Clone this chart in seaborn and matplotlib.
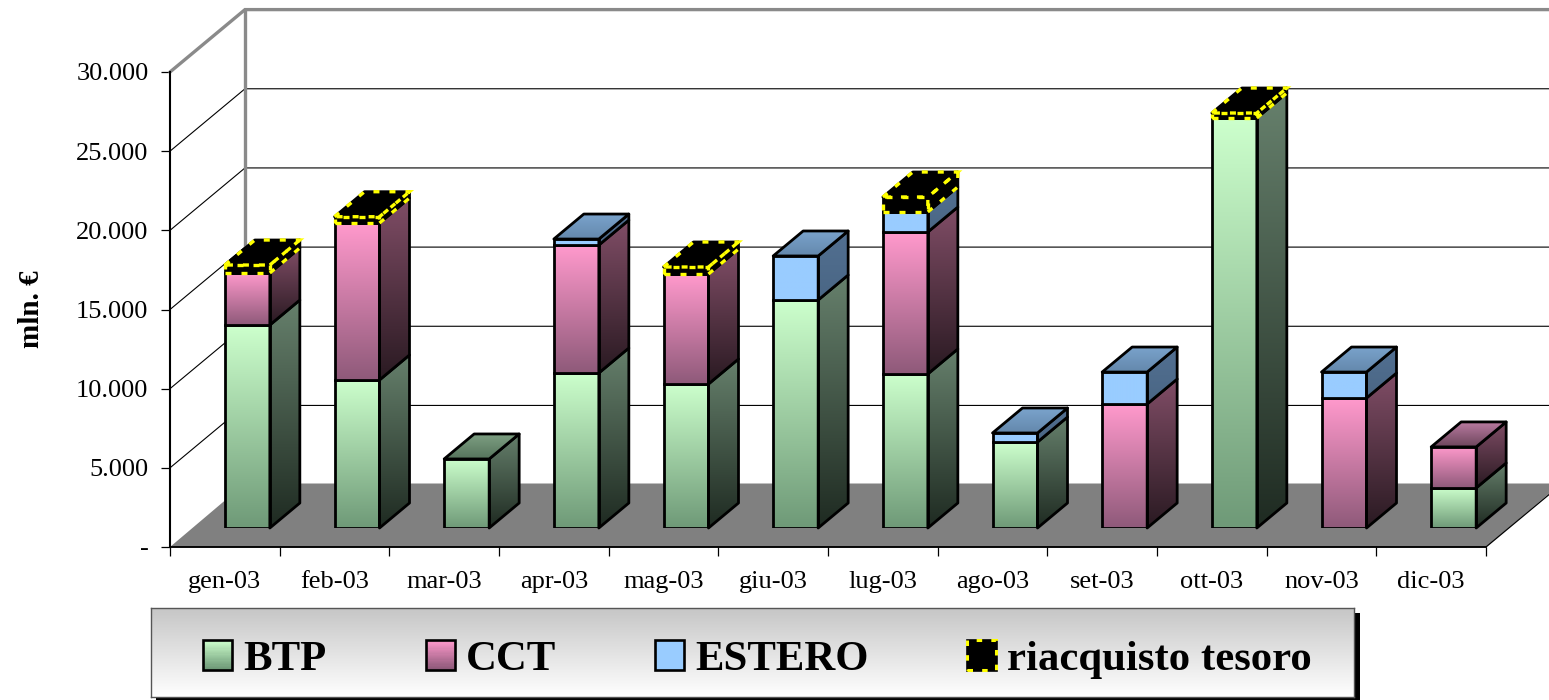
import numpy as np
import pandas as pd
import seaborn as sns
import matplotlib
matplotlib.use("Agg")
import matplotlib.pyplot as plt
from matplotlib.colors import to_rgb
from matplotlib.patches import Polygon, Rectangle, Patch
from matplotlib.legend_handler import HandlerBase

months = ["gen-03", "feb-03", "mar-03", "apr-03", "mag-03", "giu-03",
          "lug-03", "ago-03", "set-03", "ott-03", "nov-03", "dic-03"]
BTP = [12820, 9350, 4360, 9790, 9095, 14400, 9730, 5430, 0, 25895, 0, 2530]
CCT = [3285, 9910, 0, 8080, 6945, 0, 8965, 0, 7830, 0, 8210, 2590]
ESTERO = [0, 0, 0, 380, 0, 2780, 1265, 570, 2020, 0, 1640, 0]
RIACQUISTO = [505, 400, 0, 0, 445, 0, 945, 0, 0, 315, 0, 0]
yticks = [0, 5000, 10000, 15000, 20000, 25000, 30000]
ytick_labels = ["-", "5.000", "10.000", "15.000", "20.000", "25.000", "30.000"]

W, H = 1549, 700
sns.set_theme(style="white")
plt.rcParams["font.family"] = ["Liberation Serif", "DejaVu Serif"]
plt.rcParams["text.color"] = "black"
plt.rcParams["axes.labelcolor"] = "black"
plt.rcParams["xtick.color"] = "black"
plt.rcParams["ytick.color"] = "black"

styles = {
    "BTP": dict(front=("#CCFFCC", "#6F9A78"), side=("#66806C", "#1F2B22"), top=("#7D9F82", "#56745C")),
    "CCT": dict(front=("#FF99CC", "#8F5A7A"), side=("#804D66", "#2A1A22"), top=("#B87AA0", "#6E465C")),
    "ESTERO": dict(front=("#99CCFF", "#99CCFF"), side=("#527092", "#4A6684"), top=("#7AA3CC", "#6488AC")),
    "riacquisto tesoro": dict(front=("#000000", "#000000"), side=("#000000", "#000000"), top=("#000000", "#000000")),
}
series = {"BTP": BTP, "CCT": CCT, "ESTERO": ESTERO, "riacquisto tesoro": RIACQUISTO}
df = pd.DataFrame({"mese": months, **series})


def frac(x0, y0, x1, y1):
    return [x0 / W, 1 - y1 / H, (x1 - x0) / W, (y1 - y0) / H]


def grad(c0, c1, n=64):
    a, b = np.array(to_rgb(c0)), np.array(to_rgb(c1))
    return np.linspace(a, b, n)[:, None, :]


fig = plt.figure(figsize=(W / 100, H / 100), dpi=100, facecolor="white")
XPX = 12 / 1316
YPX = 30000 / 475

# Base plane: axes, walls, floor, grid
ax = fig.add_axes(frac(170, 72, 1486, 547))
ax.set_facecolor("none")
ax.set_xlim(-0.5, 11.5)
ax.set_ylim(0, 30000)
for s in ["top", "right"]:
    ax.spines[s].set_visible(False)
ax.spines["left"].set_color("black")
ax.spines["bottom"].set_color("black")
ax.spines["left"].set_linewidth(1.5)
ax.spines["bottom"].set_linewidth(1.2)

BX, BY = 75 * XPX, 62.4 * YPX
x0, x1 = -0.5, 11.5
ax.add_patch(Polygon([(x0, 0), (x0 + BX, 63.5 * YPX), (x1 + BX, 63.5 * YPX), (x1, 0)], closed=True,
                     facecolor="#808080", edgecolor="none", clip_on=False, zorder=1))
ax.plot([x0, x1, x1 + BX], [0, 0, BY], color="black", lw=0.9, clip_on=False, zorder=2)
for v in yticks[1:-1]:
    ax.plot([x0, x0 + BX, x1 + BX], [v, v + BY, v + BY], color="black", lw=0.8, clip_on=False, zorder=1)
ax.plot([x0, x0 + BX, x1 + BX], [30000, 30000 + BY, 30000 + BY], color="#8A8A8A", lw=2.4,
        clip_on=False, zorder=2, solid_joinstyle="miter")
ax.plot([x0 + BX, x0 + BX], [BY, 30000 + BY], color="#8A8A8A", lw=2.4, clip_on=False, zorder=2)

ax.set_yticks(yticks)
ax.set_yticklabels(ytick_labels, fontsize=19)
ax.set_xticks(np.arange(12))
ax.set_xticklabels(months, fontsize=19)
ax.set_xticks(np.arange(-0.5, 12), minor=True)
ax.tick_params(axis="x", which="major", length=0, pad=17)
ax.tick_params(axis="x", which="minor", length=6.5, width=0.9, color="black", bottom=True)
ax.tick_params(axis="y", which="major", length=6.5, width=0.9, color="black", pad=9, left=True)
ax.set_ylabel("mln. €", fontsize=21, fontweight="bold")
ax.yaxis.set_label_coords(-125 / 1316, 0.5)

# Bar plane: same scales, shifted into the depth of the 3D box
ax2 = fig.add_axes(frac(170 + 22.5, 72 - 19, 1486 + 22.5, 547 - 19))
ax2.patch.set_visible(False)
ax2.axis("off")

DX, DY = 30 * XPX, 25 * YPX
WIDTH = 45 / 109.67
EDGE = 2.0
YELLOW = "#FFFF00"
DASH = (0, (1.8, 3.0))


def face(verts, colors, extent, z):
    poly = Polygon(verts, closed=True, facecolor="none", edgecolor="black", lw=EDGE,
                   clip_on=False, zorder=z + 1, joinstyle="round")
    ax2.add_patch(poly)
    im = ax2.imshow(grad(*colors), extent=extent, aspect="auto", origin="upper",
                    interpolation="bilinear", zorder=z)
    im.set_clip_path(Polygon(verts, closed=True, transform=ax2.transData))
    return poly


bottom = np.zeros(12)
values = df[list(series)].to_numpy()
z = 10
for j, name in enumerate(series):
    st = styles[name]
    mask = df[name].to_numpy() > 0
    sub = df[mask]
    sns.barplot(data=sub, x="mese", y=name, order=months, bottom=bottom[mask], ax=ax2,
                width=WIDTH, color=st["front"][0], saturation=1, edgecolor="black",
                linewidth=EDGE, legend=False, zorder=z + 2, errorbar=None)
    rects = ax2.containers[-1]
    for rect, i in zip(rects, np.where(mask)[0]):
        rect.set_facecolor("none")
        l, b, w, h = rect.get_x(), rect.get_y(), rect.get_width(), rect.get_height()
        r, t = l + w, b + h
        im = ax2.imshow(grad(*st["front"]), extent=(l, r, b, t), aspect="auto", origin="upper",
                        interpolation="bilinear", zorder=z + 1)
        im.set_clip_path(rect)
        side = [(r, b), (r + DX, b + DY), (r + DX, t + DY), (r, t)]
        face(side, st["side"], (r, r + DX, b, t + DY), z)
        is_top = values[i, j + 1:].sum() == 0
        if is_top:
            topf = [(l, t), (l + DX, t + DY), (r + DX, t + DY), (r, t)]
            face(topf, st["top"], (l, r + DX, t, t + DY), z + 4)
        if name == "riacquisto tesoro":
            for verts in ([(l, b), (r, b), (r, t), (l, t)], side, topf):
                ax2.add_patch(Polygon(verts, closed=True, facecolor="none", edgecolor=YELLOW,
                                      lw=2.4, linestyle=DASH, clip_on=False, zorder=z + 8))
    bottom = bottom + df[name].to_numpy()
    z += 10
ax2.set_xlim(-0.5, 11.5)
ax2.set_ylim(0, 30000)

# Legend box with shadow and gradient background
fig.add_artist(Rectangle((156 / W, 1 - 700 / H), (1360 - 156) / W, (700 - 613) / H,
                         transform=fig.transFigure, facecolor="black", edgecolor="none", zorder=0))
axl = fig.add_axes(frac(150.5, 608, 1354, 697))
axl.imshow(grad("#C6C6C6", "#FFFFFF", 128), extent=(0, 1, 0, 1), aspect="auto", origin="upper",
           interpolation="bilinear")
axl.set_xticks([])
axl.set_yticks([])
for s in axl.spines.values():
    s.set_color("#555555")
    s.set_linewidth(1.0)
    s.set_visible(True)


class GradHandler(HandlerBase):
    def __init__(self, c0, c1, dashed=False):
        super().__init__()
        self.c0, self.c1, self.dashed = c0, c1, dashed

    def create_artists(self, legend, orig, xd, yd, width, height, fontsize, trans):
        arts = []
        n = 24
        cols = grad(self.c0, self.c1, n)[:, 0, :]
        for k in range(n):
            arts.append(Rectangle((-xd, -yd + height * (n - k - 1) / n), width, height / n + 0.3,
                                  facecolor=cols[k], edgecolor="none", transform=trans))
        arts.append(Rectangle((-xd, -yd), width, height, facecolor="none", edgecolor="black",
                              lw=1.9, transform=trans))
        if self.dashed:
            arts.append(Rectangle((-xd, -yd), width, height, facecolor="none", edgecolor=YELLOW,
                                  lw=2.2, linestyle=DASH, transform=trans))
        return arts


handles = [Patch(label=n) for n in series]
hmap = {
    handles[0]: GradHandler("#CCFFCC", "#6F9A78"),
    handles[1]: GradHandler("#FF99CC", "#8F5A7A"),
    handles[2]: GradHandler("#99CCFF", "#99CCFF"),
    handles[3]: GradHandler("#000000", "#000000", dashed=True),
}
leg = axl.legend(handles=handles, labels=list(series), handler_map=hmap, ncol=4, frameon=False,
                 loc="center", bbox_to_anchor=(0.5046, 0.42),
                 prop={"weight": "bold", "size": 30.8}, handlelength=0.678, handleheight=0.678,
                 handletextpad=0.26, columnspacing=2.31, borderpad=0, borderaxespad=0)

fig.savefig("out.png", dpi=100, facecolor="white")
